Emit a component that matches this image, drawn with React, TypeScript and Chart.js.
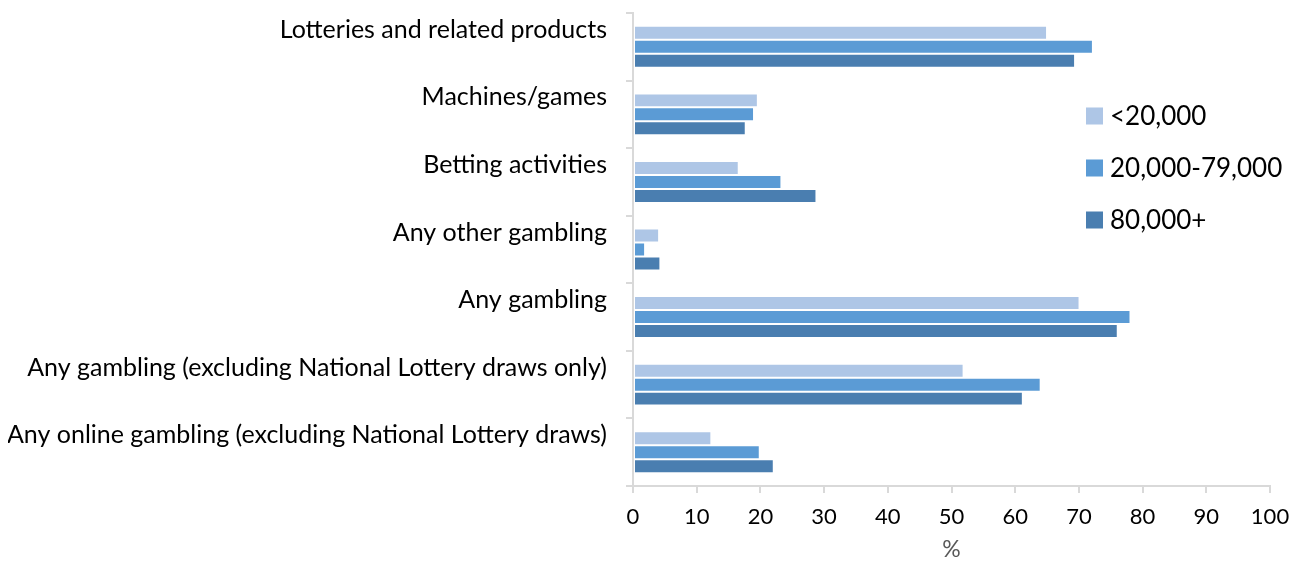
import React, { useEffect, useRef } from "react";
import { Chart, registerables } from "chart.js";

Chart.register(...registerables);

const categories = [
  "Lotteries and related products",
  "Machines/games",
  "Betting activities",
  "Any other gambling",
  "Any gambling",
  "Any gambling (excluding National Lottery draws only)",
  "Any online gambling (excluding National Lottery draws)",
];

const seriesLabels = ["<20,000", "20,000-79,000", "80,000+"];
const seriesColors = ["#aec6e6", "#5b9bd5", "#4a7eb0"];

const under20k = [65.0, 19.6, 16.6, 4.1, 70.1, 51.9, 12.3];
const from20kTo79k = [72.2, 19.0, 23.3, 1.9, 78.1, 64.0, 19.9];
const over80k = [69.4, 17.7, 28.8, 4.3, 76.1, 61.2, 22.1];

const xMin = 0;
const xMax = 100;
const xStep = 10;
const xTitle = "%";

const FONT = "Lato, 'Open Sans', sans-serif";

const legendPlugin = {
  id: "overlayLegend",
  afterDraw(chart: any) {
    const ctx = chart.ctx;
    const area = chart.chartArea;
    const x0 = area.right - 184;
    const y0 = area.top + 103;
    const gap = 52;
    ctx.save();
    ctx.font = `26px ${FONT}`;
    ctx.textBaseline = "middle";
    ctx.textAlign = "left";
    chart.data.datasets.forEach((ds: any, i: number) => {
      const y = y0 + i * gap;
      ctx.fillStyle = ds.backgroundColor;
      ctx.fillRect(x0, y - 8.5, 17, 17);
      ctx.fillStyle = "#000000";
      ctx.fillText(ds.label, x0 + 24, y + 1);
    });
    ctx.restore();
  },
};

export default function App() {
  const ref = useRef<HTMLCanvasElement | null>(null);

  useEffect(() => {
    if (!ref.current) return;
    const data = [under20k, from20kTo79k, over80k];
    const chart = new Chart(ref.current, {
      type: "bar",
      data: {
        labels: categories,
        datasets: seriesLabels.map((label, i) => ({
          label,
          data: data[i],
          backgroundColor: seriesColors[i],
          borderColor: "rgba(255,255,255,0.55)",
          borderWidth: 1,
          borderSkipped: false,
          barPercentage: 1.0,
          categoryPercentage: 0.62,
        })),
      },
      options: {
        indexAxis: "y",
        animation: false,
        responsive: true,
        maintainAspectRatio: false,
        layout: { padding: { top: 5, right: 23, bottom: 0, left: 0 } },
        plugins: {
          legend: { display: false },
          tooltip: { enabled: false },
        },
        scales: {
          x: {
            min: xMin,
            max: xMax,
            ticks: {
              stepSize: xStep,
              color: "#000000",
              font: { family: FONT, size: 22 },
              padding: 11,
              maxRotation: 0,
            },
            grid: {
              display: true,
              drawOnChartArea: false,
              drawTicks: true,
              tickLength: 7,
              color: "#d9d9d9",
              lineWidth: 2,
            },
            border: { display: true, color: "#d9d9d9", width: 2 },
            title: {
              display: true,
              text: xTitle,
              color: "#595959",
              font: { family: FONT, size: 23, lineHeight: 1 },
              padding: { top: 0, bottom: 6 },
            },
            afterFit(scale: any) {
              scale.height = 81;
              scale.paddingLeft = 0;
              scale.paddingRight = 0;
            },
          },
          y: {
            ticks: {
              color: "#000000",
              font: { family: FONT, size: 25 },
              padding: 19,
              labelOffset: -17,
              autoSkip: false,
            },
            grid: {
              display: true,
              drawOnChartArea: false,
              drawTicks: true,
              tickLength: 7,
              color: "#d9d9d9",
              lineWidth: 2,
            },
            border: { display: true, color: "#d9d9d9", width: 2 },
            afterFit(scale: any) {
              scale.width = 625;
              scale.paddingTop = 0;
              scale.paddingBottom = 0;
            },
          },
        },
      },
      plugins: [legendPlugin],
    });
    return () => chart.destroy();
  }, []);

  return (
    <div style={{ position: "relative", width: "100%", height: 559, marginBottom: -8 }}>
      <canvas ref={ref} />
    </div>
  );
}
